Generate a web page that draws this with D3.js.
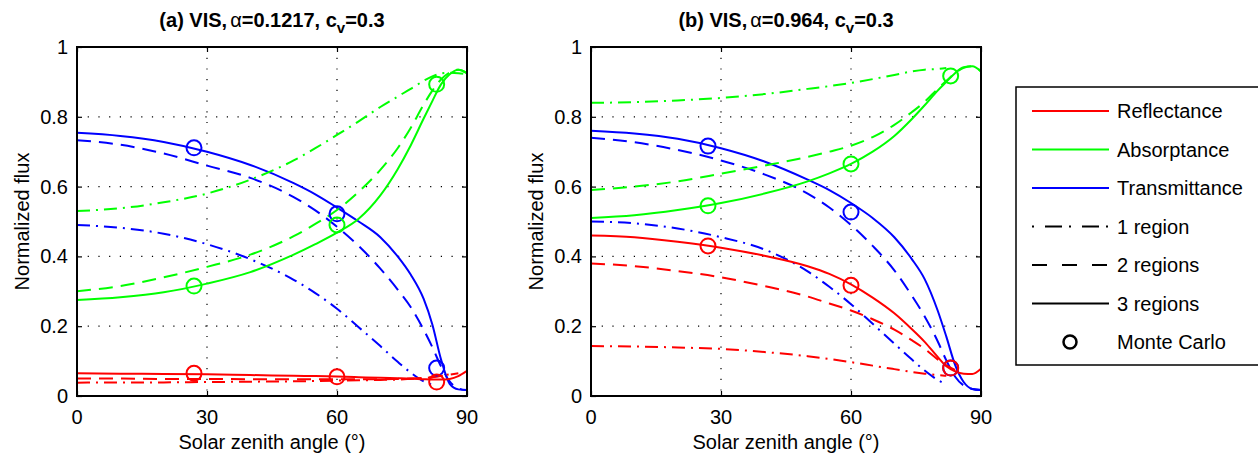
<!DOCTYPE html>
<html>
<head>
<meta charset="utf-8">
<script src="https://cdn.jsdelivr.net/npm/d3@7"></script>
<style>
  html, body { margin: 0; padding: 0; background: #fff; }
  svg { display: block; font-family: "Liberation Sans", Arial, Helvetica, sans-serif; }
</style>
</head>
<body>
<script>
// ---------------- DATA ----------------
const angles = [0, 10, 20, 30, 40, 50, 55, 60, 65, 70, 74, 77, 80, 82, 84, 86, 88, 90];
const xTicks = [0, 30, 60, 90];
const yTicks = [0, 0.2, 0.4, 0.6, 0.8, 1];
const yTickLabels = ["0", "0.2", "0.4", "0.6", "0.8", "1"];
const xTickLabels = ["0", "30", "60", "90"];

// Panel (a): alpha = 0.1217
const reflA3 = [0.065, 0.064, 0.063, 0.062, 0.060, 0.058, 0.057, 0.056, 0.054, 0.052, 0.051, 0.050, 0.048, 0.047, 0.047, 0.049, 0.057, 0.072];
const reflA2 = [0.050, 0.050, 0.049, 0.049, 0.048, 0.048, 0.048, 0.048, 0.048, 0.048, 0.049, 0.050, 0.052, 0.054, 0.057, 0.061, 0.065, null];
const reflA1 = [0.038, 0.039, 0.039, 0.040, 0.041, 0.042, 0.043, 0.044, 0.045, 0.046, 0.047, 0.049, 0.051, 0.054, 0.058, 0.062, null, null];
const absA3 = [0.275, 0.283, 0.297, 0.322, 0.355, 0.405, 0.435, 0.468, 0.508, 0.575, 0.650, 0.718, 0.795, 0.845, 0.893, 0.922, 0.935, 0.925];
const absA2 = [0.300, 0.315, 0.340, 0.370, 0.405, 0.458, 0.493, 0.533, 0.585, 0.648, 0.710, 0.768, 0.835, 0.875, 0.907, 0.927, 0.935, 0.925];
const absA1 = [0.530, 0.538, 0.555, 0.580, 0.620, 0.675, 0.710, 0.748, 0.787, 0.828, 0.858, 0.880, 0.903, 0.916, 0.924, 0.926, 0.925, 0.922];
const traA3 = [0.754, 0.745, 0.728, 0.700, 0.662, 0.610, 0.578, 0.540, 0.500, 0.455, 0.400, 0.348, 0.278, 0.205, 0.105, 0.035, 0.019, 0.017];
const traA2 = [0.733, 0.720, 0.695, 0.660, 0.625, 0.570, 0.532, 0.485, 0.430, 0.365, 0.305, 0.255, 0.190, 0.140, 0.085, 0.042, 0.022, 0.017];
const traA1 = [0.490, 0.482, 0.465, 0.435, 0.392, 0.333, 0.295, 0.250, 0.197, 0.143, 0.098, 0.067, 0.042, 0.032, null, null, null, null];

// Panel (b): alpha = 0.964
const reflB3 = [0.460, 0.455, 0.442, 0.425, 0.402, 0.372, 0.350, 0.320, 0.282, 0.237, 0.192, 0.155, 0.112, 0.085, 0.071, 0.064, 0.063, 0.078];
const reflB2 = [0.380, 0.372, 0.358, 0.340, 0.315, 0.285, 0.265, 0.245, 0.220, 0.190, 0.160, 0.135, 0.105, 0.088, 0.075, null, null, null];
const reflB1 = [0.143, 0.142, 0.139, 0.135, 0.126, 0.114, 0.106, 0.097, 0.087, 0.077, 0.069, 0.064, 0.060, 0.058, null, null, null, null];
const absB3 = [0.510, 0.518, 0.533, 0.553, 0.580, 0.615, 0.638, 0.665, 0.700, 0.745, 0.793, 0.833, 0.875, 0.900, 0.925, 0.942, 0.945, 0.930];
const absB2 = [0.590, 0.600, 0.615, 0.637, 0.660, 0.685, 0.700, 0.717, 0.742, 0.777, 0.813, 0.843, 0.880, 0.903, 0.925, 0.940, 0.945, 0.930];
const absB1 = [0.840, 0.842, 0.847, 0.854, 0.865, 0.880, 0.888, 0.897, 0.908, 0.920, 0.930, 0.935, 0.937, 0.940, null, null, null, null];
const traB3 = [0.760, 0.752, 0.737, 0.710, 0.672, 0.620, 0.590, 0.553, 0.510, 0.455, 0.393, 0.335, 0.245, 0.170, 0.090, 0.040, 0.020, 0.017];
const traB2 = [0.740, 0.727, 0.705, 0.675, 0.635, 0.580, 0.540, 0.490, 0.430, 0.360, 0.288, 0.228, 0.157, 0.102, 0.056, 0.030, 0.020, 0.017];
const traB1 = [0.500, 0.495, 0.480, 0.455, 0.420, 0.357, 0.313, 0.263, 0.207, 0.150, 0.105, 0.073, 0.046, 0.033, null, null, null, null];

// Monte Carlo points
const mcAngles = [27, 60, 83];
const mcReflA = [0.065, 0.055, 0.040];
const mcAbsA = [0.315, 0.490, 0.893];
const mcTraA = [0.711, 0.522, 0.080];
const mcReflB = [0.430, 0.317, 0.080];
const mcAbsB = [0.545, 0.665, 0.917];
const mcTraB = [0.716, 0.527, 0.080];

const legendLabels = ["Reflectance", "Absorptance", "Transmittance", "1 region", "2 regions", "3 regions", "Monte Carlo"];

// ---------------- DRAWING ----------------
const W = 1258, H = 456;
const RED = "#ff0000", GREEN = "#00ff00", BLUE = "#0000ff";
const DASH = "14,8", DASHDOT = "13,6,2,6";
const FONT = 20;

const svg = d3.select("body").append("svg").attr("width", W).attr("height", H);

const panels = [
  { id: "a", x0: 77, prefix: "(a) VIS,", alpha: "=0.1217, c",
    series: [
      { v: traA1, c: BLUE, d: DASHDOT }, { v: traA2, c: BLUE, d: DASH }, { v: traA3, c: BLUE, d: null },
      { v: absA1, c: GREEN, d: DASHDOT }, { v: absA2, c: GREEN, d: DASH }, { v: absA3, c: GREEN, d: null },
      { v: reflA1, c: RED, d: DASHDOT }, { v: reflA2, c: RED, d: DASH }, { v: reflA3, c: RED, d: null }
    ],
    mc: [{ v: mcTraA, c: BLUE }, { v: mcAbsA, c: GREEN }, { v: mcReflA, c: RED }] },
  { id: "b", x0: 591, prefix: "(b) VIS,", alpha: "=0.964, c",
    series: [
      { v: traB1, c: BLUE, d: DASHDOT }, { v: traB2, c: BLUE, d: DASH }, { v: traB3, c: BLUE, d: null },
      { v: absB1, c: GREEN, d: DASHDOT }, { v: absB2, c: GREEN, d: DASH }, { v: absB3, c: GREEN, d: null },
      { v: reflB1, c: RED, d: DASHDOT }, { v: reflB2, c: RED, d: DASH }, { v: reflB3, c: RED, d: null }
    ],
    mc: [{ v: mcTraB, c: BLUE }, { v: mcAbsB, c: GREEN }, { v: mcReflB, c: RED }] }
];

const TOP = 47, BOTTOM = 396, PW = 390;

panels.forEach(p => {
  const x = d3.scaleLinear().domain([0, 90]).range([p.x0, p.x0 + PW]);
  const y = d3.scaleLinear().domain([0, 1]).range([BOTTOM, TOP]);
  const g = svg.append("g");

  svg.append("clipPath").attr("id", "clip-" + p.id)
    .append("rect").attr("x", p.x0).attr("y", TOP).attr("width", PW).attr("height", BOTTOM - TOP);

  // grid
  const grid = g.append("g").attr("stroke", "#000").attr("stroke-width", 1.2).attr("stroke-dasharray", "1.2,9.5");
  xTicks.slice(1, -1).forEach(t => grid.append("line")
    .attr("x1", x(t)).attr("x2", x(t)).attr("y1", TOP).attr("y2", BOTTOM));
  yTicks.slice(1, -1).forEach(t => grid.append("line")
    .attr("x1", p.x0).attr("x2", p.x0 + PW).attr("y1", y(t)).attr("y2", y(t)));

  // curves
  const plot = g.append("g").attr("clip-path", "url(#clip-" + p.id + ")");
  p.series.forEach(s => {
    const pts = angles.map((a, i) => [a, s.v[i]]);
    const line = d3.line().defined(d => d[1] !== null)
      .x(d => x(d[0])).y(d => y(d[1])).curve(d3.curveMonotoneX);
    plot.append("path").attr("d", line(pts)).attr("fill", "none")
      .attr("stroke", s.c).attr("stroke-width", 2)
      .attr("stroke-dasharray", s.d);
  });
  // Monte Carlo
  p.mc.forEach(m => {
    plot.selectAll(null).data(mcAngles.map((a, i) => [a, m.v[i]])).enter()
      .append("circle").attr("cx", d => x(d[0])).attr("cy", d => y(d[1])).attr("r", 7.5)
      .attr("fill", "none").attr("stroke", m.c).attr("stroke-width", 2);
  });

  // ticks (inward, all sides)
  const tickG = g.append("g");
  tickG.append("g").attr("transform", `translate(0,${BOTTOM})`)
    .call(d3.axisBottom(x).tickValues(xTicks).tickSize(-5).tickFormat(""));
  tickG.append("g").attr("transform", `translate(0,${TOP})`)
    .call(d3.axisTop(x).tickValues(xTicks).tickSize(-5).tickFormat(""));
  tickG.append("g").attr("transform", `translate(${p.x0},0)`)
    .call(d3.axisLeft(y).tickValues(yTicks).tickSize(-5).tickFormat(""));
  tickG.append("g").attr("transform", `translate(${p.x0 + PW},0)`)
    .call(d3.axisRight(y).tickValues(yTicks).tickSize(-5).tickFormat(""));
  tickG.selectAll(".domain").remove();
  tickG.selectAll(".tick line").attr("stroke", "#000").attr("stroke-width", 1.2);

  // frame
  g.append("rect").attr("x", p.x0).attr("y", TOP).attr("width", PW).attr("height", BOTTOM - TOP)
    .attr("fill", "none").attr("stroke", "#000").attr("stroke-width", 2);

  // tick labels
  g.selectAll(null).data(xTicks).enter().append("text")
    .attr("x", d => x(d)).attr("y", 424).attr("text-anchor", "middle")
    .attr("font-size", FONT).text((d, i) => xTickLabels[i]);
  g.selectAll(null).data(yTicks).enter().append("text")
    .attr("x", p.x0 - 9).attr("y", d => y(d) + 7).attr("text-anchor", "end")
    .attr("font-size", FONT).text((d, i) => yTickLabels[i]);

  // axis labels
  g.append("text").attr("x", p.x0 + PW / 2).attr("y", 449).attr("text-anchor", "middle")
    .attr("font-size", FONT).text("Solar zenith angle (°)");
  g.append("text").attr("transform", `translate(${p.x0 - 48},${(TOP + BOTTOM) / 2}) rotate(-90)`)
    .attr("text-anchor", "middle").attr("font-size", FONT).text("Normalized flux");

  // title
  const t = g.append("text").attr("x", p.x0 + PW / 2).attr("y", 27).attr("text-anchor", "middle")
    .attr("font-size", FONT).attr("font-weight", "bold");
  t.append("tspan").text(p.prefix);
  t.append("tspan").attr("font-weight", "normal").attr("dx", 3).text("α");
  t.append("tspan").text(p.alpha);
  t.append("tspan").attr("font-size", 15).attr("dy", 6).text("v");
  t.append("tspan").attr("dy", -6).text("=0.3");
});

// ---------------- LEGEND ----------------
const lg = svg.append("g");
lg.append("rect").attr("x", 1016).attr("y", 87).attr("width", 260).attr("height", 278)
  .attr("fill", "#fff").attr("stroke", "#000").attr("stroke-width", 1.5);
const legendStyles = [
  { c: RED, d: null }, { c: GREEN, d: null }, { c: BLUE, d: null },
  { c: "#000", d: "2,11,17,7" }, { c: "#000", d: "15,15" }, { c: "#000", d: null }, { c: "#000", circle: true }
];
legendLabels.forEach((lab, i) => {
  const yy = 111 + i * 38.5;
  const st = legendStyles[i];
  if (st.circle) {
    lg.append("circle").attr("cx", 1070).attr("cy", yy).attr("r", 6.5)
      .attr("fill", "none").attr("stroke", "#000").attr("stroke-width", 2.5);
  } else {
    lg.append("line").attr("x1", 1032).attr("x2", 1109).attr("y1", yy).attr("y2", yy)
      .attr("stroke", st.c).attr("stroke-width", 2).attr("stroke-dasharray", st.d);
  }
  lg.append("text").attr("x", 1117).attr("y", yy + 7).attr("font-size", FONT).text(lab);
});
</script>
</body>
</html>
